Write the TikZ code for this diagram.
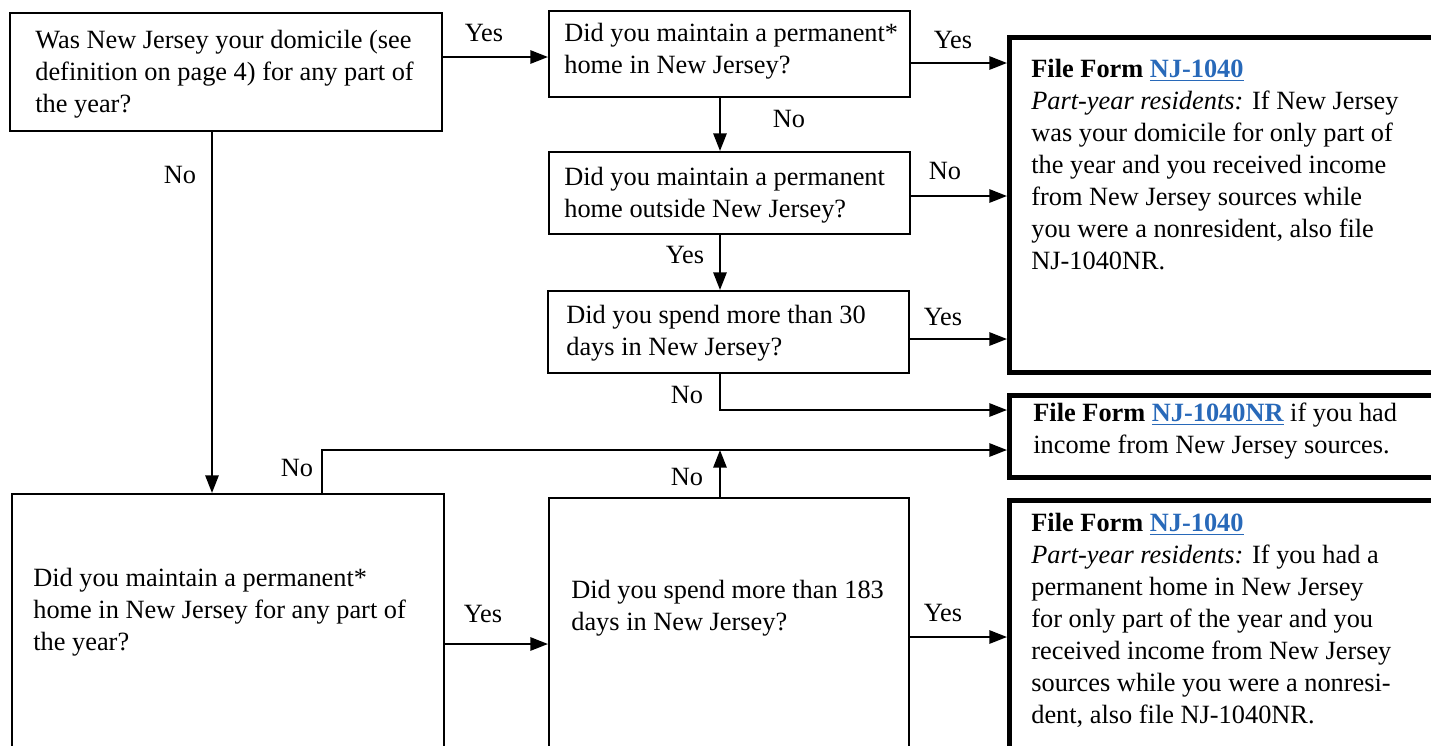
\documentclass[tikz,border=0pt]{standalone}
\usepackage{fontspec}
\setmainfont{Liberation Serif}
\usetikzlibrary{arrows.meta}
\definecolor{linkblue}{RGB}{40,105,185}
\newcommand\formlink[1]{\textcolor{linkblue}{\underline{#1}}}

\begin{document}
\begin{tikzpicture}[x=0.02cm,y=-0.02cm,
      every node/.style={font=\fontsize{15}{18.2}\selectfont},
      qbox/.style={draw,line width=1.2pt,anchor=north west,inner sep=0pt},
      formbox/.style={draw,line width=2.8pt,anchor=north west,inner sep=0pt},
      txt/.style={anchor=north west,inner sep=0pt,align=left},
      lbl/.style={inner sep=0pt},
      arr/.style={line width=1.2pt,-{Triangle[length=10pt,width=7.5pt]}},
      ]
        \useasboundingbox (0,0) rectangle (1431,745);
        \clip (0,0) rectangle (1431,745);

        \node [qbox,minimum width=8.64cm,minimum height=2.36cm] (dom) at (9,12) {};
        \node [qbox,minimum width=7.22cm,minimum height=1.72cm] (permNJ) at (548,10) {};
        \node [qbox,minimum width=7.22cm,minimum height=1.64cm] (permOut) at (548,151) {};
        \node [qbox,minimum width=7.22cm,minimum height=1.64cm] (days30) at (547,290) {};
        \node [qbox,minimum width=8.64cm,minimum height=5.6cm] (permAny) at (11,493) {};
        \node [qbox,minimum width=7.2cm,minimum height=5.6cm] (days183) at (548,497) {};
        \node [formbox,minimum width=9.2cm,minimum height=6.7cm] (formNJ) at (1007,35) {};
        \node [formbox,minimum width=9.2cm,minimum height=1.64cm] (formNR) at (1007,393) {};
        \node [formbox,minimum width=9.2cm,minimum height=5.6cm] (formHome) at (1007,498) {};
        \coordinate (join) at (720,450);

        \node [txt] (domT) at (35,30)
          {Was New Jersey your domicile (see\\definition on page 4) for any part of\\the year?};
        \node [txt] (permNJT) at (564,23)
          {Did you maintain a permanent*\\home in New Jersey?};
        \node [txt] (permOutT) at (564,167)
          {Did you maintain a permanent\\home outside New Jersey?};
        \node [txt] (days30T) at (566,305)
          {Did you spend more than 30\\days in New Jersey?};
        \node [txt] (permAnyT) at (33,568)
          {Did you maintain a permanent*\\home in New Jersey for any part of\\the year?};
        \node [txt] (days183T) at (571,580)
          {Did you spend more than 183\\days in New Jersey?};
        \node [txt] (formNJT) at (1031,59)
          {\textbf{File Form \formlink{NJ-1040}}\\\textit{Part-year residents:} If New Jersey\\
           was your domicile for only part of\\the year and you received income\\
           from New Jersey sources while\\you were a nonresident, also file\\NJ-1040NR.};
        \node [txt] (formNRT) at (1033,403)
          {\textbf{File Form \formlink{NJ-1040NR}} if you had\\income from New Jersey sources.};
        \node [txt] (formHomeT) at (1031,513)
          {\textbf{File Form \formlink{NJ-1040}}\\\textit{Part-year residents:} If you had a\\
           permanent home in New Jersey\\for only part of the year and you\\
           received income from New Jersey\\sources while you were a nonresi-\\
           dent, also file NJ-1040NR.};

        \node [lbl] (yesDom) at (484,33) {Yes};
        \node [lbl] (yesPermNJ) at (953,40) {Yes};
        \node [lbl] (noPermNJ) at (789,119) {No};
        \node [lbl] (noPermOut) at (945,171) {No};
        \node [lbl] (yesPermOut) at (685,255) {Yes};
        \node [lbl] (yesDays30) at (943,317) {Yes};
        \node [lbl] (noDays30) at (687,395) {No};
        \node [lbl] (noDom) at (180,175) {No};
        \node [lbl] (noPermAny) at (297,468) {No};
        \node [lbl] (yesPermAny) at (483,614) {Yes};
        \node [lbl] (noDays183) at (687,477) {No};
        \node [lbl] (yesDays183) at (943,613) {Yes};

        \draw [arr] (dom.east |- 0,57) -- (permNJ.west |- 0,57);
        \draw [arr] (permNJ.east |- 0,63) -- (formNJ.west |- 0,63);
        \draw [arr] (permNJ.south -| 720,0) -- (permOut.north -| 720,0);
        \draw [arr] (permOut.east |- 0,196) -- (formNJ.west |- 0,196);
        \draw [arr] (permOut.south -| 720,0) -- (days30.north -| 720,0);
        \draw [arr] (days30.east |- 0,339) -- (formNJ.west |- 0,339);
        \draw [arr] (days30.south -| 720,0) |- (formNR.west |- 0,410);
        \draw [arr] (dom.south -| 212,0) -- (permAny.north -| 212,0);
        \draw [arr] (permAny.north -| 322,0) |- (formNR.west |- 0,450);
        \draw [arr] (days183.north -| 720,0) -- (join);
        \draw [arr] (permAny.east |- 0,644) -- (days183.west |- 0,644);
        \draw [arr] (days183.east |- 0,637) -- (formHome.west |- 0,637);
      \end{tikzpicture}
\end{document}
